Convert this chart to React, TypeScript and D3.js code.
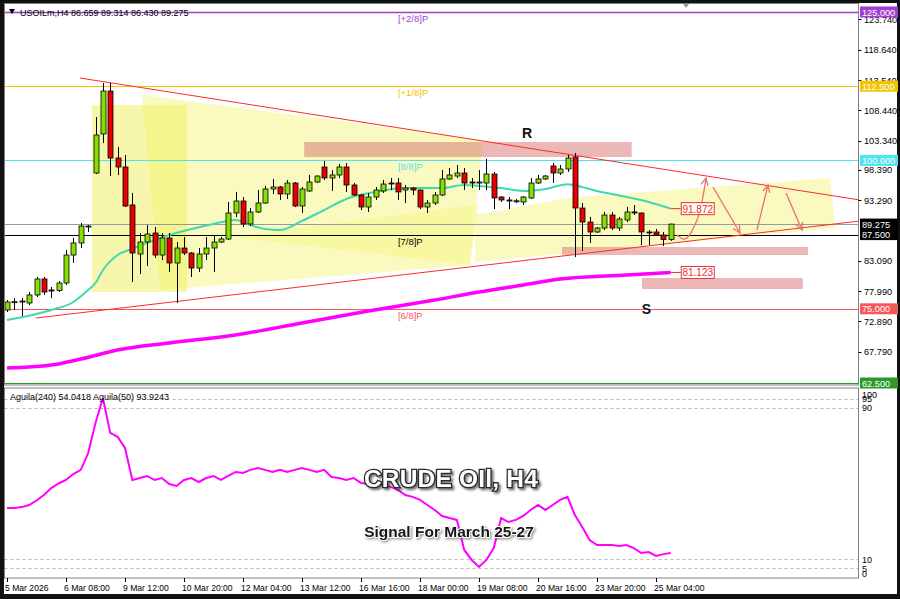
import React from 'react';
import * as d3 from 'd3';

// ---------- DATA ----------
const opens = [74.80,76.15,76.31,75.98,77.33,80.02,78.17,78.10,79.35,84.06,86.09,88.78,97.88,104.45,111.69,100.40,98.89,92.49,84.23,86.25,87.77,84.06,86.93,82.72,85.24,84.40,81.87,84.23,85.24,86.25,86.76,91.14,93.16,89.29,91.31,92.82,95.18,95.52,94.34,96.19,92.32,94.85,96.36,98.89,97.04,97.54,98.89,95.86,94.17,92.15,93.83,94.85,96.19,96.19,95.01,95.35,95.01,92.15,92.82,94.17,96.87,97.37,97.88,96.36,96.30,96.19,97.71,93.83,93.33,93.16,92.99,93.67,96.19,96.87,99.06,97.88,98.55,100.57,91.98,89.62,87.94,88.61,90.80,88.61,89.96,91.31,91.14,87.94,87.94,87.43,86.659];
const highs = [76.48,76.82,76.82,77.83,80.36,80.36,78.67,79.68,84.91,86.93,89.45,89.12,107.31,113.04,113.04,102.26,100.91,94.51,87.77,89.12,88.78,87.77,87.77,86.25,87.10,84.57,85.24,87.10,87.43,87.10,92.99,94.68,93.83,91.98,95.01,95.69,96.87,95.69,96.70,96.36,95.52,97.54,97.45,99.90,98.38,99.39,99.56,96.19,94.34,94.51,95.52,96.70,97.04,97.04,95.86,95.52,95.10,93.33,94.68,98.38,98.72,99.23,98.72,97.04,98.38,100.24,98.05,94.00,93.83,93.50,94.00,97.04,97.54,97.54,99.56,99.23,100.91,101.25,92.82,90.47,88.78,91.31,91.31,90.47,92.15,92.49,91.20,88.28,88.45,87.94,89.314];
const lows = [74.46,74.80,73.79,75.64,76.99,77.33,76.82,77.83,79.01,82.72,85.24,87.94,97.70,102.93,97.37,97.54,92.15,79.52,80.86,82.21,83.56,83.22,81.20,75.98,84.06,80.36,81.20,83.22,81.20,86.09,86.59,90.47,88.78,88.95,91.14,92.70,94.34,93.33,93.50,92.15,91.14,94.68,96.19,96.70,94.85,97.04,94.68,94.00,91.64,91.31,93.33,94.51,95.01,93.33,92.82,94.17,91.81,91.14,92.49,94.00,96.70,97.04,95.01,95.35,95.01,95.01,91.81,92.99,91.81,92.82,92.49,93.50,96.02,96.70,96.19,97.54,98.05,83.73,84.74,86.09,87.77,88.28,88.28,88.11,89.62,90.80,85.75,85.75,87.26,85.58,86.430];
const closes = [76.15,76.20,76.25,77.33,80.02,77.83,78.10,79.35,84.06,86.09,88.95,88.95,104.28,111.69,100.40,98.89,92.32,84.40,86.25,87.60,84.06,86.93,82.72,85.24,84.40,81.87,84.23,85.24,86.25,86.76,91.14,93.16,89.29,91.31,92.82,95.18,95.52,94.34,96.19,92.32,95.18,96.36,97.37,97.04,97.54,98.89,95.86,94.17,92.15,93.83,95.01,96.02,96.15,94.68,95.35,95.01,92.15,92.82,94.17,96.87,97.54,97.88,96.19,96.30,96.36,97.71,93.67,93.33,93.30,93.20,93.83,96.19,96.87,97.37,97.88,98.55,100.40,91.98,89.62,87.94,88.61,90.80,88.61,90.13,91.31,91.14,87.94,87.90,87.43,86.66,89.275];

const tealBars = [0,6,9,11,12,13,15,17,19,22,25,28,31,33,35,37,40,43,46,50,54,59,62,64,67,70,73,76,78,80,82,84,87,90];
const tealVals = [73.1,74.8,76.15,78.17,79.35,81.5,84.06,85.1,86.1,87.43,88.45,89.3,89.96,89.1,88.45,88.28,89.8,91.64,93.5,94.68,95.35,95.35,95.86,95.7,95.35,94.85,95.2,96.0,95.5,94.85,94.34,93.83,92.99,91.872];

const magBars = [0,6,10,15,22,31,40,49,58,64,70,75,84,90];
const magVals = [65.03,65.53,66.54,68.06,69.24,70.59,72.61,74.63,76.48,77.83,79.01,80.02,80.70,81.123];

const aguila = [37.0,37.0,37.5,38.6,41.0,43.9,47.6,50.0,51.9,55.0,57.2,66.0,82.0,95.3,76.8,74.7,68.8,51.9,52.9,54.0,51.9,52.9,49.7,48.7,51.9,52.9,50.8,52.9,54.0,51.9,54.0,56.1,55.6,57.2,58.2,57.2,56.1,57.2,56.1,57.2,58.2,57.2,56.1,57.2,53.4,52.9,51.9,52.9,50.3,49.7,49.7,49.2,48.2,46.6,43.9,42.9,41.3,38.6,36.0,32.8,31.7,30.7,14.8,9.5,5.8,9.5,15.8,31.7,29.6,30.7,32.8,36.0,38.6,36.0,38.6,41.3,42.9,33.3,27.0,20.1,17.4,17.4,17.4,16.9,17.4,15.8,13.2,13.7,11.6,12.6,13.2];

const timeLabels = ['5 Mar 2026','6 Mar 08:00','9 Mar 12:00','10 Mar 20:00','12 Mar 04:00','13 Mar 12:00','16 Mar 16:00','18 Mar 00:00','19 Mar 08:00','20 Mar 16:00','23 Mar 20:00','25 Mar 04:00'];
const timeLabelBars = [0,8,16,24,32,40,48,56,64,72,80,88];

const priceTicks = [123.74,118.64,113.54,108.44,103.34,98.39,93.29,83.09,77.99,72.89,67.79];

const levelPrices = [125, 112.5, 100, 87.5, 75, 62.5];
const levelNames = ['[+2/8]P','[+1/8]P','[8/8]P','[7/8]P','[6/8]P',''];
const levelColors = ['#a23fd0','#f2c500','#4fe3ee','#000000','#f25a5a','#2a9a2a'];

const indLevels = [95, 90, 10, 5];
const indLabels = [100, 95, 90, 10, 5, 0];

// drawn objects in (bar, price)
const upperTrend: [number, number][] = [[9.9,113.88],[115.66,93.33]];
const lowerTrend: [number, number][] = [[3.93,73.45],[115.66,89.79]];
const yellowRect: [number, number][] = [[11.53,109.33],[24.41,109.33],[24.41,77.83],[11.53,77.83]];
const yellowQuadLeft: [number, number][] = [[18.31,111.02],[64.54,103.44],[62.78,82.38],[20.75,78.17]];
const yellowTriMid: [number, number][] = [[30.6,87.1],[64.0,92.6],[62.78,82.38]];
const yellowQuadRight: [number, number][] = [[63.5,90.8],[76.3,93.7],[111.6,97.04],[112.3,88.61],[63.5,82.9]];
const resistanceZone = [40.3, 84.7, 100.57, 103.10];
const supportZone1 = [75.25, 108.6, 84.06, 85.41];
const supportZone2 = [86.1, 107.9, 78.34, 80.19];
const arrowCurve: [number, number][] = [[90.85,87.43],[91.93,86.76],[93.56,89.96],[94.78,97.04]];
const arrowLines: [number, number][][] = [
  [[95.73,95.52],[99.39,87.77]],
  [[101.69,88.28],[103.19,95.86]],
  [[105.63,94.51],[107.80,88.28]],
];

const FONT = "'Liberation Sans', Arial, sans-serif";

export default function App() {
  const PL = 4.5, PR = 858.5, PT = 3.5, PB = 385, IT = 388, IB = 578;
  const x = d3.scaleLinear().domain([0, 90]).range([7, 670.75]);
  const y = d3.scaleLinear().domain([62.5, 125]).range([383, 12]);
  const yi = d3.scaleLinear().domain([0, 100]).range([577.9, 389.1]);

  const tealPath = d3.line<number>().x((d, i) => x(tealBars[i])).y(d => y(d)).curve(d3.curveMonotoneX)(tealVals) || '';
  const magPath = d3.line<number>().x((d, i) => x(magBars[i])).y(d => y(d)).curve(d3.curveMonotoneX)(magVals) || '';
  const aguilaPath = d3.line<number>().x((d, i) => x(i)).y(d => yi(d))(aguila) || '';

  const poly = (pts: [number, number][]) => pts.map(p => `${x(p[0])},${y(p[1])}`).join(' ');

  const arrowHead = (p0: [number, number], p1: [number, number]) => {
    const x0 = x(p0[0]), y0 = y(p0[1]), x1 = x(p1[0]), y1 = y(p1[1]);
    const a = Math.atan2(y1 - y0, x1 - x0);
    const L = 8, s = 0.45;
    return `M${x1 - L * Math.cos(a - s)},${y1 - L * Math.sin(a - s)} L${x1},${y1} L${x1 - L * Math.cos(a + s)},${y1 - L * Math.sin(a + s)}`;
  };
  const curvePath = d3.line<[number, number]>().x(d => x(d[0])).y(d => y(d[1])).curve(d3.curveCatmullRom)(arrowCurve) || '';

  const zone = (z: number[], key: string) => (
    <rect key={key} x={x(z[0])} y={y(z[3])} width={x(z[1]) - x(z[0])} height={y(z[2]) - y(z[3])} fill="#d87070" fillOpacity={0.5} />
  );

  const bull = '#84e000', bear = '#e60000';
  const lastClose = closes[closes.length - 1];

  const rightLabel = (price: number, text: string, bg: string, key: string) => (
    <g key={key}>
      <rect x={860} y={y(price) - 5.5} width={38} height={11} fill={bg} />
      <text x={862} y={y(price) + 3.5} fontSize={9.2} fill="#fff" fontFamily={FONT}>{text}</text>
    </g>
  );

  return (
    <svg width={900} height={599} style={{ position: 'absolute', left: 0, top: 0 }} fontFamily={FONT}>
      <defs>
        <clipPath id="main"><rect x={PL} y={PT} width={PR - PL} height={PB - PT} /></clipPath>
        <clipPath id="ind"><rect x={PL} y={IT} width={PR - PL} height={IB - IT} /></clipPath>
        <filter id="sh" x="-10%" y="-30%" width="120%" height="160%">
          <feDropShadow dx={2} dy={2} stdDeviation={1.2} floodColor="#000" floodOpacity={0.55} />
        </filter>
        <filter id="sh2" x="-10%" y="-30%" width="120%" height="160%">
          <feDropShadow dx={1.5} dy={1.5} stdDeviation={1} floodColor="#555" floodOpacity={0.6} />
        </filter>
      </defs>
      <rect width={900} height={599} fill="#111" />
      <rect x={4} y={3} width={893} height={591} fill="#fff" />

      {/* ---------- MAIN PANEL ---------- */}
      <g clipPath="url(#main)">
        {/* yellow triangles */}
        <polygon points={poly(yellowQuadLeft)} fill="#f4f46a" fillOpacity={0.42} />
        <polygon points={poly(yellowTriMid)} fill="#f4f46a" fillOpacity={0.35} />
        <polygon points={poly(yellowRect)} fill="#eef05a" fillOpacity={0.5} />
        <polygon points={poly(yellowQuadRight)} fill="#f4f46a" fillOpacity={0.42} />

        {/* zones */}
        {zone(resistanceZone, 'r')}
        {zone(supportZone1, 's1')}
        {zone(supportZone2, 's2')}

        {/* levels */}
        {levelPrices.map((p, i) => (
          <g key={'lv' + i}>
            <line x1={PL} x2={PR} y1={Math.round(y(p)) + 0.5} y2={Math.round(y(p)) + 0.5} stroke={levelColors[i]} strokeWidth={i === 0 ? 1.5 : 1} />
            {levelNames[i] && (
              <text x={x(53)} y={y(p) + 10} fontSize={9.5} fill={levelColors[i] === '#4fe3ee' ? '#5fdde6' : levelColors[i]}>{levelNames[i]}</text>
            )}
          </g>
        ))}
        <line x1={PL} x2={PR} y1={Math.round(y(lastClose)) + 0.5} y2={Math.round(y(lastClose)) + 0.5} stroke="#9a9a9a" strokeWidth={1} />

        {/* trend lines */}
        <line x1={x(upperTrend[0][0])} y1={y(upperTrend[0][1])} x2={x(upperTrend[1][0])} y2={y(upperTrend[1][1])} stroke="#ff2a2a" strokeWidth={1} />
        <line x1={x(lowerTrend[0][0])} y1={y(lowerTrend[0][1])} x2={x(lowerTrend[1][0])} y2={y(lowerTrend[1][1])} stroke="#ff2a2a" strokeWidth={1} />

        {/* moving averages */}
        <path d={magPath} fill="none" stroke="#ff00ff" strokeWidth={3.5} />
        <path d={tealPath} fill="none" stroke="#3fd8b0" strokeWidth={2} />

        {/* candles */}
        {opens.map((o, i) => {
          const c = closes[i];
          const cx = Math.round(x(i)) + 0.5;
          const top = y(Math.max(o, c));
          const bot = y(Math.min(o, c));
          return (
            <g key={'c' + i}>
              <line x1={cx} x2={cx} y1={y(highs[i])} y2={y(lows[i])} stroke="#000" strokeWidth={1} />
              <rect x={cx - 2.5} y={top} width={5} height={Math.max(1, bot - top)} fill={c >= o ? bull : bear} stroke="#000" strokeWidth={0.8} />
            </g>
          );
        })}

        {/* arrows */}
        <g stroke="#e87070" strokeWidth={1.3} fill="none">
          <path d={curvePath} />
          <path d={arrowHead(arrowCurve[2], arrowCurve[3])} />
          {arrowLines.map((a, i) => (
            <g key={'a' + i}>
              <line x1={x(a[0][0])} y1={y(a[0][1])} x2={x(a[1][0])} y2={y(a[1][1])} />
              <path d={arrowHead(a[0], a[1])} />
            </g>
          ))}
        </g>

        {/* MA value boxes */}
        {[[tealVals[tealVals.length - 1], '91.872'], [magVals[magVals.length - 1], '81.123']].map(([v, t], i) => (
          <g key={'bx' + i}>
            <line x1={x(90)} x2={x(90) + 10} y1={y(v as number)} y2={y(v as number)} stroke="#e83030" strokeWidth={1} />
            <rect x={x(90) + 10.5} y={y(v as number) - 6} width={33} height={12} fill="#fff" fillOpacity={0.85} stroke="#e83030" strokeWidth={1} />
            <text x={x(90) + 27} y={y(v as number) + 4} fontSize={10} fill="#e83030" textAnchor="middle">{t as string}</text>
          </g>
        ))}

        {/* R / S */}
        <text x={x(70.5)} y={y(103.8)} fontSize={14} fontWeight="bold" textAnchor="middle" fill="#111">R</text>
        <text x={x(86.7)} y={y(74.05)} fontSize={14} fontWeight="bold" textAnchor="middle" fill="#111">S</text>

        {/* header */}
        <path d="M9,9 L15,9 L12,14 Z" fill="#000" />
        <text x={20} y={16} fontSize={9} fill="#000">USOILm,H4  86.659 89.314 86.430 89.275</text>
        <path d="M683,4 L689,4 L686,8 Z" fill="#999" />
      </g>
      <rect x={PL} y={PT} width={PR - PL} height={PB - PT} fill="none" stroke="#808080" strokeWidth={1} />

      {/* right axis main */}
      {priceTicks.map((p, i) => (
        <g key={'pt' + i}>
          <line x1={PR} x2={PR + 3} y1={Math.round(y(p)) + 0.5} y2={Math.round(y(p)) + 0.5} stroke="#000" />
          <text x={864} y={y(p) + 3.5} fontSize={9.2} fill="#000">{p.toFixed(3)}</text>
        </g>
      ))}
      {levelPrices.map((p, i) => rightLabel(p, p.toFixed(3), levelColors[i], 'rl' + i))}
      {rightLabel(lastClose, lastClose.toFixed(3), '#000', 'last')}

      {/* ---------- INDICATOR PANEL ---------- */}
      <g clipPath="url(#ind)">
        {indLevels.map((l, i) => (
          <line key={'il' + i} x1={PL} x2={PR} y1={Math.round(yi(l)) + 0.5} y2={Math.round(yi(l)) + 0.5} stroke="#b8b8b8" strokeDasharray="3,3" />
        ))}
        <path d={aguilaPath} fill="none" stroke="#ff00ff" strokeWidth={2} />
        <text x={10} y={400} fontSize={9} fill="#000">Aguila(240) 54.0418  Aguila(50) 93.9243</text>
      </g>
      <rect x={PL} y={IT} width={PR - PL} height={IB - IT} fill="none" stroke="#808080" strokeWidth={1} />
      {indLabels.map((l, i) => (
        <text key={'ix' + i} x={862} y={Math.min(573, Math.max(394, yi(l))) + 3.5} fontSize={9} fill="#000">{l}</text>
      ))}

      {/* big titles */}
      <text x={451} y={487} fontSize={24.5} fontWeight="bold" textAnchor="middle" fill="#fff" stroke="#2a2a2a" strokeWidth={2.6} paintOrder="stroke" filter="url(#sh)" letterSpacing={0.2}>CRUDE OIl, H4</text>
      <text x={449} y={537} fontSize={15.5} fontWeight="bold" textAnchor="middle" fill="#151515" stroke="#fff" strokeWidth={2} paintOrder="stroke" filter="url(#sh2)">Signal For March 25-27</text>

      {/* time axis */}
      {timeLabelBars.map((b, i) => (
        <g key={'tl' + i}>
          <line x1={Math.round(x(b)) + 0.5} x2={Math.round(x(b)) + 0.5} y1={IB} y2={IB + 4} stroke="#000" />
          <text x={x(b) - 2} y={591} fontSize={8.6} fill="#000">{timeLabels[i]}</text>
        </g>
      ))}
    </svg>
  );
}
